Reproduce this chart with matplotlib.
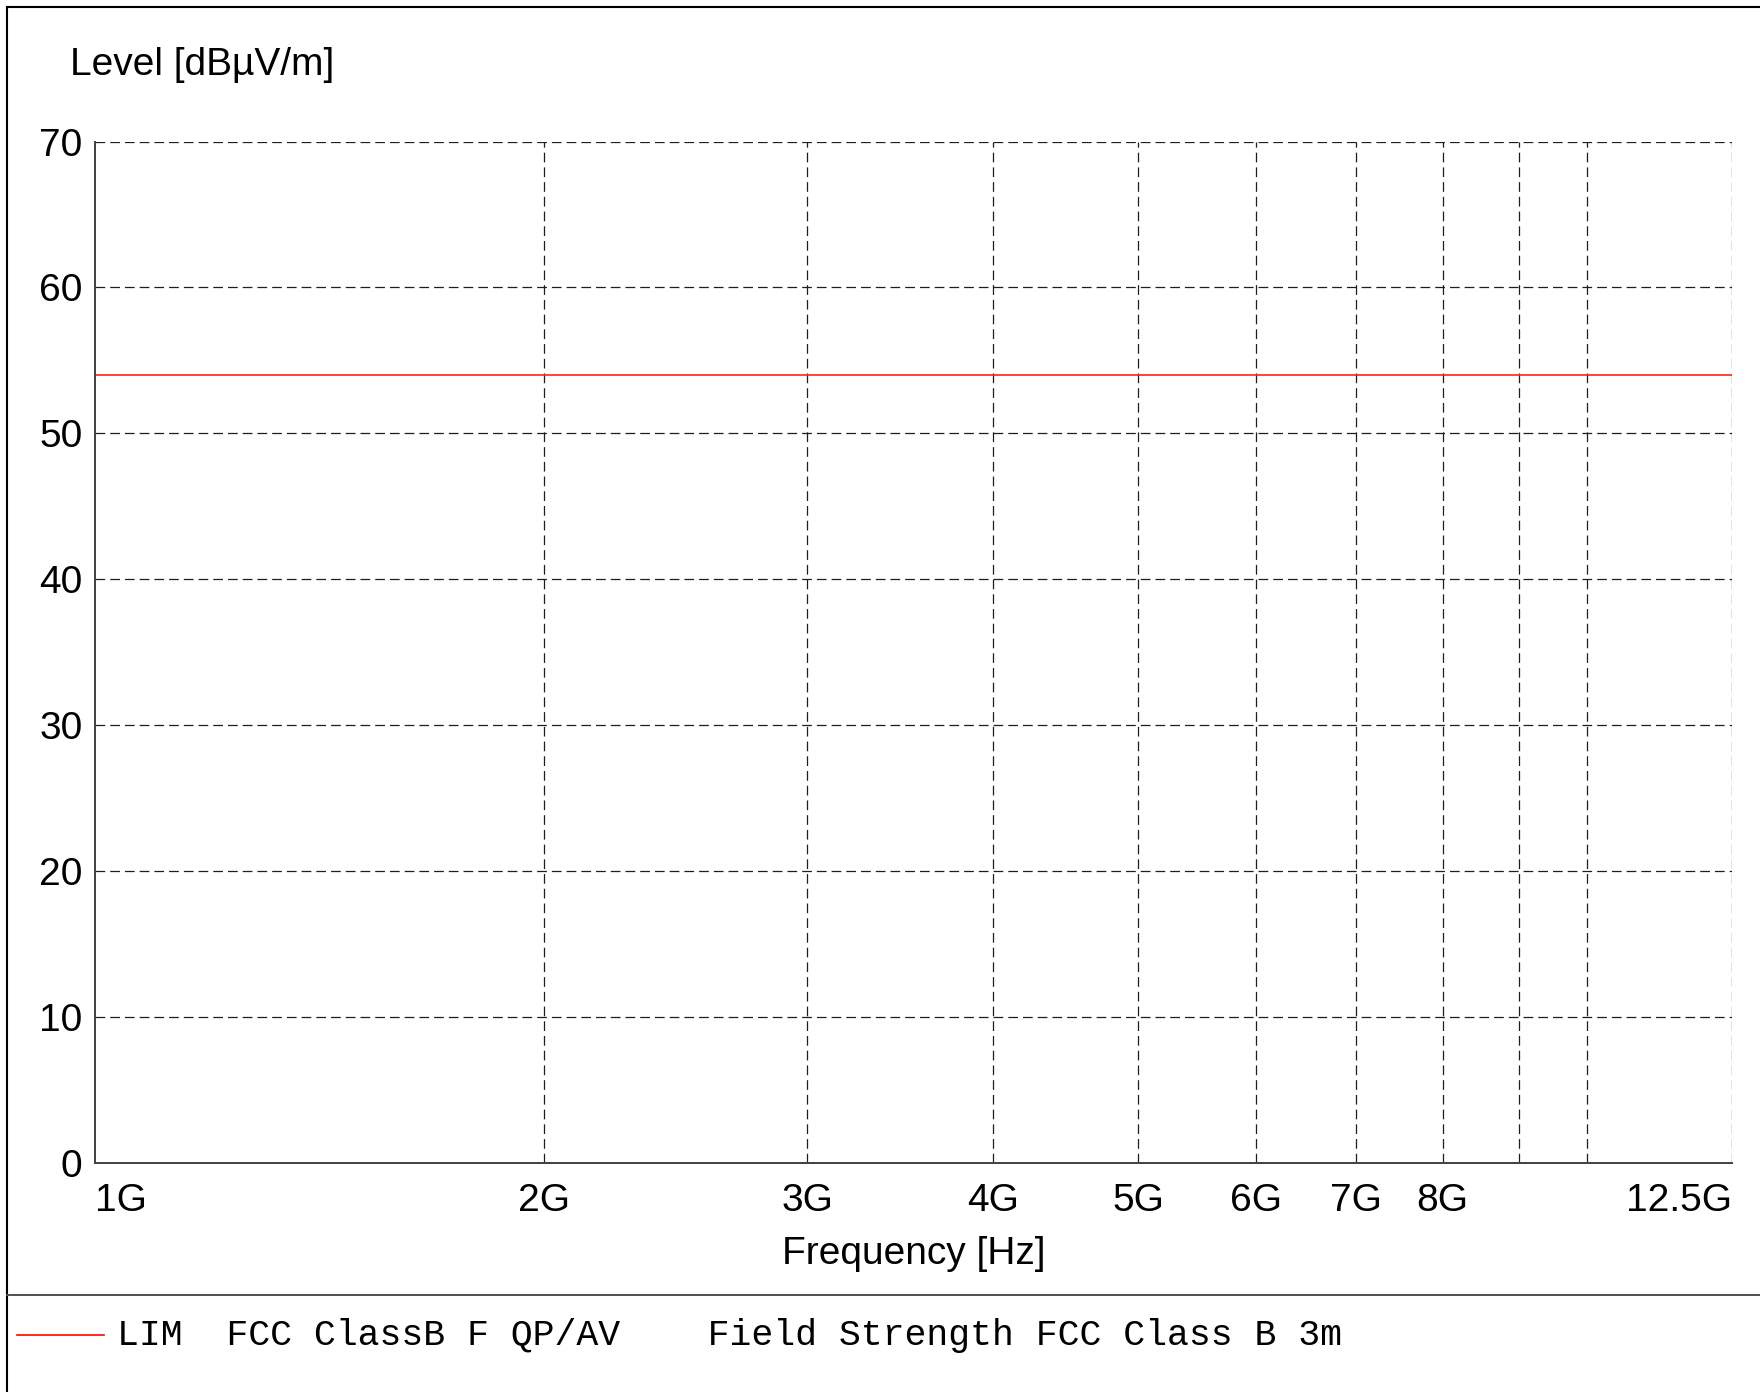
import matplotlib.pyplot as plt
from matplotlib.lines import Line2D

plt.rcParams["font.family"] = ["Liberation Sans", "DejaVu Sans"]
plt.rcParams["lines.scale_dashes"] = False

# limit line (FCC Class B field strength, 3 m)
limit_freq = [1e9, 12.5e9]
limit_level = [54, 54]

y_ticks = [0, 10, 20, 30, 40, 50, 60, 70]
x_ticks = [1e9, 2e9, 3e9, 4e9, 5e9, 6e9, 7e9, 8e9, 12.5e9]
x_tick_labels = ["1G", "2G", "3G", "4G", "5G", "6G", "7G", "8G", "12.5G"]
x_grid_only = [9e9, 10e9]

legend_text = "LIM  FCC ClassB F QP/AV    Field Strength FCC Class B 3m"

W, H = 1760, 1392
fig = plt.figure(figsize=(W / 100, H / 100), dpi=100)
fig.patch.set_facecolor("white")


def fx(px):
    return px / W


def fy(py):
    return 1 - py / H


ax = fig.add_axes([fx(95), fy(1163), fx(1732) - fx(95), fy(141.5) - fy(1163)])
ax.set_xscale("log")
ax.set_xlim(limit_freq[0], limit_freq[1])
ax.set_ylim(0, 70)

grid_kw = dict(color="#1e1e1e", lw=0.9, dashes=(7, 3.6), zorder=1)
for y in y_ticks[1:]:
    ax.axhline(y, **grid_kw)
for x in x_ticks[1:-1] + x_grid_only + [x_ticks[-1]]:
    ax.axvline(x, **grid_kw)

ax.plot(limit_freq, limit_level, color="#ff2020", lw=1.2, zorder=3)

ax.set_yticks(y_ticks)
ax.set_yticklabels([str(v) for v in y_ticks])
ax.set_xticks(x_ticks)
ax.set_xticklabels(x_tick_labels)
ax.xaxis.set_minor_locator(plt.NullLocator())
ax.tick_params(axis="both", length=0, labelsize=28)
ax.tick_params(axis="y", pad=9)
ax.tick_params(axis="x", pad=14.5)
labels = ax.get_xticklabels()
labels[0].set_horizontalalignment("left")
labels[-1].set_horizontalalignment("right")

for side in ("top", "right"):
    ax.spines[side].set_visible(False)
for side in ("left", "bottom"):
    ax.spines[side].set_color("#404040")
    ax.spines[side].set_linewidth(1.4)
    ax.spines[side].set_zorder(4)

fig.text(fx(70), fy(65), "Level [dBµV/m]", fontsize=28, ha="left", va="center")
fig.text(fx(913.5), fy(1254.5), "Frequency [Hz]", fontsize=28, ha="center", va="center")

# outer frame and legend separator
fig.add_artist(Line2D([fx(6.5), fx(6.5)], [0, fy(7)], color="black", lw=1.5))
fig.add_artist(Line2D([fx(6.5), 1], [fy(7), fy(7)], color="black", lw=1.5))
fig.add_artist(Line2D([fx(6.5), 1], [fy(1295), fy(1295)], color="#505050", lw=1.4))

# legend row
fig.add_artist(Line2D([fx(17), fx(104)], [fy(1334.5), fy(1334.5)], color="#ff0000", lw=1.2))
fig.text(fx(117), fy(1345), legend_text, fontsize=26.3, family=["Liberation Mono", "DejaVu Sans Mono"],
         ha="left", va="baseline")

fig.savefig("out.png", dpi=100, facecolor="white")
